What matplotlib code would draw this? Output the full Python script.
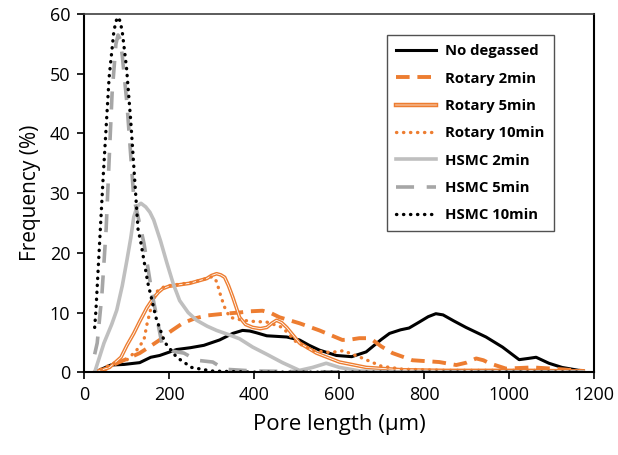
import matplotlib
matplotlib.use("Agg")
import matplotlib.pyplot as plt
import matplotlib.patheffects as pe
from matplotlib.lines import Line2D

plt.rcParams['font.family'] = ['Open Sans', 'DejaVu Sans']

# data
x_nodeg = [25, 63, 94, 131, 157, 178, 218, 250, 282, 319, 350, 373, 390, 406, 430, 477, 507, 530, 554, 594,
           630, 664, 700, 719, 745, 765, 789, 810, 828, 845, 870, 899, 946, 985, 1024, 1045, 1064, 1094,
           1125, 1165, 1175]
y_nodeg = [0, 1.2, 1.3, 1.6, 2.5, 2.8, 3.8, 4.1, 4.5, 5.4, 6.5, 7.0, 6.9, 6.6, 6.1, 5.9, 5.4, 4.5, 3.7, 2.8,
           2.6, 3.4, 5.5, 6.5, 7.1, 7.4, 8.4, 9.3, 9.8, 9.6, 8.6, 7.5, 5.9, 4.2, 2.1, 2.3, 2.5, 1.5,
           0.8, 0.3, 0.2]

x_rot2 = [25, 50, 77, 100, 131, 155, 178, 205, 232, 260, 289, 330, 366, 390, 420, 440, 460, 507, 554, 608,
          630, 648, 665, 679, 700, 726, 773, 836, 876, 900, 923, 940, 954, 993, 1055, 1102, 1158, 1175]
y_rot2 = [0, 0.5, 1.5, 2.2, 3.2, 4.3, 5.4, 6.9, 8.2, 9.0, 9.5, 9.8, 10.0, 10.2, 10.3, 9.9, 9.2, 8.2, 7.0, 5.4,
          5.5, 5.7, 5.7, 5.4, 4.3, 3.2, 2.0, 1.7, 1.2, 1.6, 2.3, 2.0, 1.5, 0.6, 0.8, 0.6, 0.3, 0.2]

x_rot5 = [25, 60, 87, 101, 117, 131, 148, 162, 175, 185, 200, 249, 289, 300, 312, 322, 331, 340, 350, 366,
          380, 397, 415, 430, 442, 453, 465, 477, 507, 547, 601, 664, 750, 850, 950, 1050, 1175]
y_rot5 = [0, 0.8, 2.5, 4.5, 6.5, 8.5, 10.8, 12.3, 13.4, 14.0, 14.4, 14.9, 15.7, 16.2, 16.5, 16.3, 15.9, 14.5,
          12.6, 9.2, 8.0, 7.5, 7.3, 7.5, 8.2, 8.7, 8.3, 7.5, 4.9, 3.2, 1.7, 0.8, 0.4, 0.3, 0.3, 0.3, 0.2]

x_rot10 = [25, 70, 100, 124, 141, 148, 160, 171, 185, 200, 250, 280, 295, 303, 312, 320, 330, 343, 373, 400,
           430, 467, 500, 540, 580, 610, 650, 700, 750, 850, 950, 1050, 1175]
y_rot10 = [0, 1.5, 2.0, 3.7, 5.4, 8.0, 11.5, 13.5, 14.2, 14.5, 15.0, 15.5, 15.9, 16.0, 15.2, 13.2, 11.0, 9.2,
           8.7, 8.5, 8.4, 7.5, 5.0, 3.6, 3.3, 3.6, 2.5, 1.0, 0.5, 0.3, 0.3, 0.3, 0.2]

x_hs2 = [25, 47, 65, 77, 90, 101, 110, 117, 125, 134, 145, 155, 164, 180, 195, 210, 225, 245, 265, 290, 312,
         340, 366, 397, 430, 467, 507, 538, 570, 601, 650, 700, 800, 900, 1000, 1100, 1175]
y_hs2 = [0, 4.9, 8.0, 10.4, 14.5, 18.8, 22.5, 26.0, 27.8, 28.3, 27.7, 26.8, 25.5, 22.0, 18.3, 14.8, 12.0,
         10.0, 8.7, 7.7, 7.0, 6.3, 5.6, 4.2, 3.0, 1.6, 0.3, 0.8, 1.5, 0.8, 0.2, 0.1, 0, 0, 0, 0, 0]

x_hs5 = [25, 31, 42, 52, 59, 66, 75, 80, 85, 90, 101, 117, 141, 160, 183, 210, 235, 265, 303, 330, 400, 500,
         700, 900, 1175]
y_hs5 = [3.0, 4.9, 13.0, 24.0, 35.5, 46.7, 55.0, 56.5, 55.8, 53.0, 45.0, 29.3, 21.6, 13.2, 4.9, 3.5, 3.2,
         2.0, 1.7, 0.5, 0.2, 0.1, 0, 0, 0]

x_hs10 = [25, 28, 45, 59, 70, 75, 80, 85, 90, 100, 110, 127, 134, 150, 160, 169, 190, 218, 253, 300, 400, 600,
          800, 1000, 1175]
y_hs10 = [7.5, 10.4, 32.7, 49.4, 57.0, 58.8, 59.5, 58.8, 57.0, 51.0, 42.0, 24.0, 21.6, 15.0, 12.0, 9.2, 5.0,
          2.5, 0.8, 0.2, 0, 0, 0, 0, 0]

orange = '#ED7D31'

fig = plt.figure(figsize=(6.18, 4.55), dpi=100)
ax = fig.add_axes([0.136, 0.182, 0.825, 0.787])

ax.plot(x_nodeg, y_nodeg, color='black', lw=2.2, label='No degassed')
ax.plot(x_rot2, y_rot2, color=orange, lw=2.8, dashes=(3.5, 2), label='Rotary 2min')
ax.plot(x_rot5, y_rot5, color='white', lw=0.6, label='Rotary 5min',
        path_effects=[pe.Stroke(linewidth=2.6, foreground=orange), pe.Normal()])
ax.plot(x_rot10, y_rot10, color=orange, lw=2.4, ls=(0, (0.1, 2.0)), dash_capstyle='round', label='Rotary 10min')
ax.plot(x_hs2, y_hs2, color='#BFBFBF', lw=2.6, label='HSMC 2min')
ax.plot(x_hs5, y_hs5, color='#A6A6A6', lw=2.6, dashes=(5, 3.5), label='HSMC 5min')
ax.plot(x_hs10, y_hs10, color='black', lw=2.4, ls=(0, (0.1, 2.0)), dash_capstyle='round', label='HSMC 10min')

ax.set_xlim(0, 1200)
ax.set_ylim(0, 60)
ax.set_xticks(range(0, 1201, 200))
ax.set_yticks(range(0, 61, 10))
ax.tick_params(direction='out', length=5, width=1.2, labelsize=13, colors='black', pad=5)
ax.set_xlabel('Pore length (\u03bcm)', fontsize=16, labelpad=7)
ax.set_ylabel('Frequency (%)', fontsize=15, labelpad=6)
for s in ['left', 'bottom', 'right']:
    ax.spines[s].set_linewidth(1.5)
ax.spines['top'].set_color('#404040')
ax.spines['top'].set_linewidth(1.2)

handles, labels = ax.get_legend_handles_labels()
handles[2] = Line2D([], [], color='#F4B183', lw=1.2,
                    path_effects=[pe.Stroke(linewidth=3.2, foreground=orange), pe.Normal()])
leg = ax.legend(handles, labels, loc='upper left', bbox_to_anchor=(0.595, 0.941), borderaxespad=0,
                frameon=True, fancybox=False, edgecolor='#262626', prop={'weight': 'bold', 'size': 10.7},
                handlelength=2.7, labelspacing=0.9, borderpad=0.6, handletextpad=0.6)
leg.get_frame().set_linewidth(1.0)

fig.savefig('out.png', dpi=100)
